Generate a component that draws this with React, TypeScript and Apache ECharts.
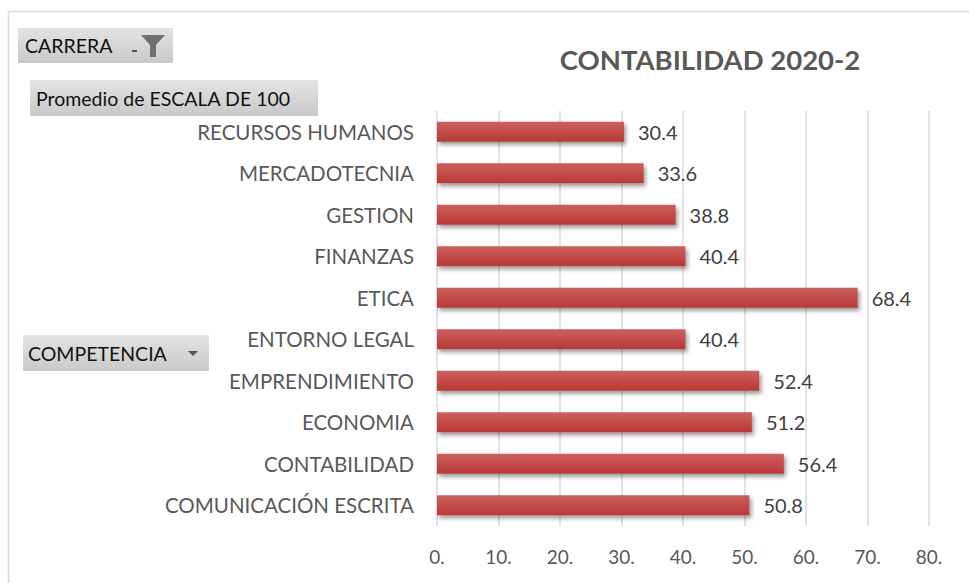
import React, { useEffect, useRef } from "react";
import * as echarts from "echarts";

const categories = [
  "COMUNICACIÓN ESCRITA",
  "CONTABILIDAD",
  "ECONOMIA",
  "EMPRENDIMIENTO",
  "ENTORNO LEGAL",
  "ETICA",
  "FINANZAS",
  "GESTION",
  "MERCADOTECNIA",
  "RECURSOS HUMANOS",
];
const values = [50.8, 56.4, 51.2, 52.4, 40.4, 68.4, 40.4, 38.8, 33.6, 30.4];
const titleText = "CONTABILIDAD 2020-2";
const filterLabel = "CARRERA";
const valueFieldLabel = "Promedio de ESCALA DE 100";
const rowFieldLabel = "COMPETENCIA";

const FONT = "Lato, 'Open Sans', sans-serif";

const btnFill = new echarts.graphic.LinearGradient(0, 0, 0, 1, [
  { offset: 0, color: "#e3e3e3" },
  { offset: 1, color: "#c9c9c9" },
]);

export default function App() {
  const ref = useRef<HTMLDivElement>(null);
  useEffect(() => {
    document.body.style.margin = "0";
    document.body.style.overflow = "hidden";
    const chart = echarts.init(ref.current!, null, { renderer: "svg" });
    chart.setOption({
      animation: false,
      backgroundColor: "#ffffff",
      title: {
        text: titleText,
        left: 705,
        top: 40,
        textAlign: "center",
        textStyle: { fontFamily: FONT, fontSize: 27.5, fontWeight: "bold", color: "#595959" },
      },
      grid: { left: 437, right: 40, top: 111, bottom: 57, containLabel: false },
      xAxis: {
        type: "value",
        min: 0,
        max: 80,
        interval: 10,
        axisLine: { show: false },
        axisTick: { show: false },
        splitLine: { show: true, lineStyle: { color: "#d9d9d9", width: 1.5 } },
        axisLabel: {
          formatter: (v: number) => v + ".",
          fontFamily: FONT,
          fontSize: 19,
          color: "#595959",
          margin: 21,
        },
      },
      yAxis: {
        type: "category",
        data: categories,
        axisLine: { show: false },
        axisTick: { show: false },
        axisLabel: { fontFamily: FONT, fontSize: 20.5, color: "#595959", margin: 23 },
      },
      series: [
        {
          type: "bar",
          data: values,
          barWidth: 20,
          itemStyle: {
            color: new echarts.graphic.LinearGradient(0, 0, 0, 1, [
              { offset: 0, color: "#cc605d" },
              { offset: 1, color: "#b93836" },
            ]),
            shadowColor: "rgba(0,0,0,0.4)",
            shadowBlur: 4,
            shadowOffsetX: 2,
            shadowOffsetY: 3,
          },
          label: {
            show: true,
            position: "right",
            distance: 14,
            formatter: (p: any) => p.value.toFixed(1),
            fontFamily: FONT,
            fontSize: 20,
            color: "#404040",
          },
        },
      ],
      graphic: [
        { type: "line", shape: { x1: 8.5, y1: 11.5, x2: 980, y2: 11.5 }, style: { stroke: "#d9d9d9", lineWidth: 1.5 } },
        { type: "line", shape: { x1: 8.5, y1: 11.5, x2: 8.5, y2: 600 }, style: { stroke: "#d9d9d9", lineWidth: 1.5 } },
        // CARRERA filter button
        { type: "rect", shape: { x: 18, y: 28, width: 155, height: 35 }, style: { fill: btnFill } },
        { type: "text", x: 25, y: 45.5, style: { text: filterLabel, fontFamily: FONT, fontSize: 19.5, fill: "#111", verticalAlign: "middle" } },
        { type: "rect", shape: { x: 132, y: 50, width: 5, height: 2 }, style: { fill: "#555" } },
        { type: "polygon", shape: { points: [[141, 35], [165, 35], [156, 45], [156, 57], [150, 57], [150, 45]] }, style: { fill: "#707070" } },
        // value field button
        { type: "rect", shape: { x: 30, y: 80, width: 288, height: 36 }, style: { fill: btnFill } },
        { type: "text", x: 36, y: 98, style: { text: valueFieldLabel, fontFamily: FONT, fontSize: 19.5, fill: "#111", verticalAlign: "middle" } },
        // COMPETENCIA row button
        { type: "rect", shape: { x: 23, y: 335, width: 186, height: 36 }, style: { fill: btnFill } },
        { type: "text", x: 28, y: 353, style: { text: rowFieldLabel, fontFamily: FONT, fontSize: 19.5, fill: "#111", verticalAlign: "middle" } },
        { type: "polygon", shape: { points: [[188, 351], [198, 351], [193, 356]] }, style: { fill: "#555" } },
      ],
    });
    return () => chart.dispose();
  }, []);
  return <div ref={ref} style={{ width: 969, height: 583 }} />;
}
